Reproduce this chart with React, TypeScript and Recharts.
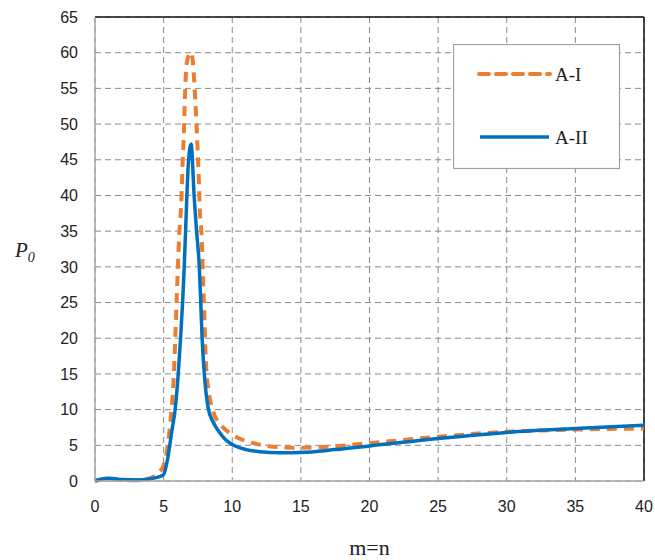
import React from 'react';
import {
  LineChart,
  Line,
  XAxis,
  YAxis,
  CartesianGrid,
  ReferenceLine,
} from 'recharts';

// ticks
const xTicks = [0, 5, 10, 15, 20, 25, 30, 35, 40];
const yTicks = [0, 5, 10, 15, 20, 25, 30, 35, 40, 45, 50, 55, 60, 65];

// A-I (orange dashed)
const mA1 = [0, 0.5, 1, 2, 3, 4, 4.7, 5.0, 5.46, 5.75, 5.95, 6.14, 6.3, 6.38, 6.48, 6.55, 6.67, 6.85, 7.03, 7.23, 7.36, 7.47, 7.57, 7.65, 7.76, 7.93, 8.13, 8.6, 9.2, 10, 11, 12, 13, 14.5, 17, 20, 25, 30, 35, 40];
const pA1 = [0, 0.2, 0.3, 0.1, 0.1, 0.4, 1.3, 2.2, 7.6, 15.1, 25.3, 34.6, 39.7, 44.4, 49, 53.7, 58.3, 59.7, 60, 56, 51.4, 46.7, 42, 37.4, 34.6, 25.3, 15.1, 9.8, 7.8, 6.5, 5.6, 5.1, 4.8, 4.65, 4.8, 5.3, 6.2, 6.9, 7.2, 7.35];

// A-II (blue solid)
const mA2 = [0, 0.5, 1, 2, 3, 4, 4.7, 5.0, 5.3, 5.6, 5.83, 6.07, 6.24, 6.39, 6.5, 6.6, 6.8, 7.0, 7.23, 7.4, 7.6, 7.7, 7.8, 7.96, 8.25, 8.6, 9.0, 9.5, 10, 11, 12, 13.5, 15, 17.5, 20, 25, 30, 35, 40];
const pA2 = [0, 0.3, 0.4, 0.2, 0.15, 0.3, 0.6, 0.9, 3.2, 7, 9.9, 15.1, 20.2, 25.3, 30, 35, 44.4, 47.2, 39.7, 35, 30, 25.3, 20.2, 15.1, 10.2, 8.3, 7.0, 5.8, 5.1, 4.4, 4.1, 3.95, 4.0, 4.4, 4.9, 5.95, 6.8, 7.35, 7.8];

const dataA1 = mA1.map((m, i) => ({ m, p: pA1[i] }));
const dataA2 = mA2.map((m, i) => ({ m, p: pA2[i] }));

const ORANGE = '#ed7d31';
const BLUE = '#0070c0';
const tickFont = { fontFamily: 'Liberation Sans, Arial, sans-serif', fontSize: 16, fill: '#222' };

const LegendBox = () => (
  <svg width={168} height={126} style={{ position: 'absolute', left: 453, top: 44 }}>
    <rect x={0.5} y={0.5} width={166} height={124} fill="#fff" stroke="#a0a0a0" strokeWidth={1.2} />
    <line x1={26} y1={30} x2={97} y2={30} stroke={ORANGE} strokeWidth={4} strokeDasharray="10 7" strokeLinecap="round" />
    <text x={102} y={37} fontFamily="Liberation Serif, serif" fontSize={19} fill="#222">A-I</text>
    <line x1={27} y1={93} x2={96} y2={93} stroke={BLUE} strokeWidth={3.5} />
    <text x={102} y={100} fontFamily="Liberation Serif, serif" fontSize={19} fill="#222">A-II</text>
  </svg>
);

export default function App() {
  return (
    <div style={{ position: 'absolute', left: 0, top: 0, width: 655, height: 560, background: '#fff' }}>
      <LineChart width={655} height={560} margin={{ top: 17, right: 11, bottom: 0, left: 0 }}>
        <CartesianGrid stroke="#8a8a8a" strokeDasharray="6 4" strokeWidth={1} />
        <XAxis
          type="number"
          dataKey="m"
          domain={[0, 40]}
          ticks={xTicks}
          height={79}
          tickLine={false}
          tickSize={0}
          tickMargin={20}
          axisLine={{ stroke: '#a6a6a6', strokeWidth: 1.5 }}
          tick={tickFont}
          label={{
            content: ({ viewBox }: any) => (
              <text
                x={viewBox.x + viewBox.width / 2}
                y={555}
                textAnchor="middle"
                fontFamily="Liberation Serif, serif"
                fontSize={22}
                fill="#222"
              >
                m=n
              </text>
            ),
          }}
        />
        <YAxis
          type="number"
          domain={[0, 65]}
          ticks={yTicks}
          width={95}
          tickLine={false}
          tickSize={0}
          tickMargin={17}
          axisLine={{ stroke: '#a6a6a6', strokeWidth: 1.5 }}
          tick={tickFont}
          label={{
            content: () => (
              <text x={15} y={257} fontFamily="Liberation Serif, serif" fontStyle="italic" fontSize={21} fill="#222">
                P<tspan fontSize={14} dy={5}>0</tspan>
              </text>
            ),
          }}
        />
        <ReferenceLine y={65} stroke="#111" strokeWidth={1.5} />
        <ReferenceLine x={40} stroke="#111" strokeWidth={1.5} />
        <Line
          data={dataA1}
          dataKey="p"
          name="A-I"
          type="monotone"
          stroke={ORANGE}
          strokeWidth={4}
          strokeDasharray="10 7"
          dot={false}
          isAnimationActive={false}
        />
        <Line
          data={dataA2}
          dataKey="p"
          name="A-II"
          type="monotone"
          stroke={BLUE}
          strokeWidth={3.5}
          dot={false}
          isAnimationActive={false}
        />
      </LineChart>
      <LegendBox />
    </div>
  );
}
